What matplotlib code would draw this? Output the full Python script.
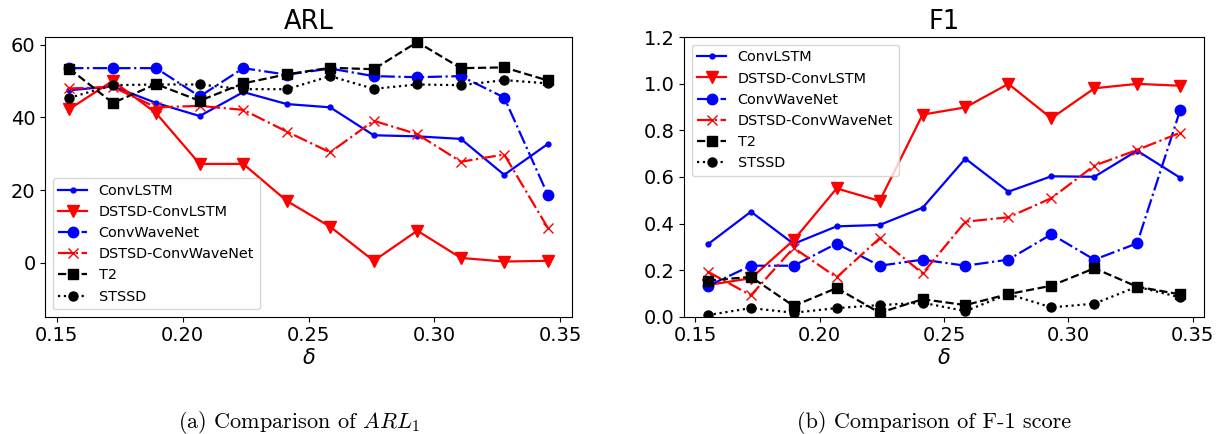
import matplotlib
matplotlib.use("Agg")
import matplotlib.pyplot as plt

delta = [0.155, 0.1723, 0.1895, 0.2068, 0.2241, 0.2414, 0.2586, 0.2759, 0.2932, 0.3105, 0.3277, 0.345]

series_names = ["ConvLSTM", "DSTSD-ConvLSTM", "ConvWaveNet", "DSTSD-ConvWaveNet", "T2", "STSSD"]

arl_convlstm = [47.5, 48.6, 44.0, 40.4, 47.0, 43.7, 42.8, 35.1, 34.8, 34.1, 24.2, 32.7]
arl_dstsd_convlstm = [42.3, 50.1, 41.2, 27.2, 27.2, 17.0, 9.9, 0.5, 8.8, 1.3, 0.3, 0.5]
arl_convwavenet = [53.6, 53.6, 53.6, 45.8, 53.6, 51.8, 53.5, 51.4, 51.1, 51.4, 45.5, 18.7]
arl_dstsd_convwavenet = [48.0, 48.4, 42.8, 43.2, 42.1, 36.1, 30.4, 39.1, 35.4, 27.8, 29.8, 9.6]
arl_t2 = [53.5, 44.0, 49.2, 44.6, 49.4, 51.9, 53.7, 53.3, 60.8, 53.6, 53.8, 50.2]
arl_stssd = [45.4, 48.9, 49.1, 49.1, 47.8, 47.8, 51.4, 47.9, 49.1, 48.9, 50.3, 49.4]

f1_convlstm = [0.311, 0.451, 0.313, 0.388, 0.394, 0.468, 0.679, 0.537, 0.603, 0.601, 0.713, 0.597]
f1_dstsd_convlstm = [0.136, 0.165, 0.329, 0.551, 0.497, 0.868, 0.899, 1.0, 0.852, 0.981, 1.0, 0.992]
f1_convwavenet = [0.132, 0.219, 0.219, 0.314, 0.219, 0.245, 0.219, 0.245, 0.354, 0.245, 0.315, 0.886]
f1_dstsd_convwavenet = [0.193, 0.092, 0.296, 0.169, 0.337, 0.186, 0.408, 0.427, 0.509, 0.649, 0.716, 0.790]
f1_t2 = [0.155, 0.171, 0.046, 0.123, 0.017, 0.075, 0.050, 0.097, 0.133, 0.208, 0.129, 0.096]
f1_stssd = [0.007, 0.037, 0.017, 0.037, 0.050, 0.060, 0.024, 0.097, 0.040, 0.056, 0.129, 0.083]

arl_data = [arl_convlstm, arl_dstsd_convlstm, arl_convwavenet, arl_dstsd_convwavenet, arl_t2, arl_stssd]
f1_data = [f1_convlstm, f1_dstsd_convlstm, f1_convwavenet, f1_dstsd_convwavenet, f1_t2, f1_stssd]

styles = [
    dict(color='b', marker='.', linestyle='-', markersize=7),
    dict(color='r', marker='v', linestyle='-', markersize=8),
    dict(color='b', marker='o', linestyle='-.', markersize=7.5),
    dict(color='r', marker='x', linestyle='-.', markersize=7.5),
    dict(color='k', marker='s', linestyle='--', markersize=7),
    dict(color='k', marker='o', linestyle=':', markersize=6.5),
]

W, H = 1216, 434
fig = plt.figure(figsize=(W / 100, H / 100), dpi=100)
ax1 = fig.add_axes([45.3 / W, (H - 316.7) / H, 526.4 / W, 279.4 / H])
ax2 = fig.add_axes([684.3 / W, (H - 316.7) / H, 519.4 / W, 279.4 / H])

for ax, data in ((ax1, arl_data), (ax2, f1_data)):
    for name, vals, st in zip(series_names, data, styles):
        ax.plot(delta, vals, label=name, linewidth=1.6, **st)
    ax.tick_params(labelsize=14)
    ax.set_xlabel(r'$\delta$', fontsize=15, labelpad=2)
    ax.set_xticks([0.15, 0.20, 0.25, 0.30, 0.35])

ax1.set_ylim(-14.9, 62.1)
ax1.set_yticks([0, 20, 40, 60])
ax1.set_title('ARL', fontsize=18.5)
ax1.legend(loc='lower left', fontsize=10.4)

ax2.set_ylim(0, 1.2)
ax2.set_yticks([0.0, 0.2, 0.4, 0.6, 0.8, 1.0, 1.2])
ax2.set_title('F1', fontsize=18.5)
ax2.legend(loc='upper left', fontsize=10.4)

fig.text(299 / W, 1 - 427.5 / H, r'(a) Comparison of $ARL_1$', fontfamily='cmr10',
         math_fontfamily='cm', fontsize=16, ha='center', va='baseline')
fig.text(934 / W, 1 - 427.5 / H, '(b) Comparison of F-1 score', fontfamily='cmr10',
         fontsize=16, ha='center', va='baseline')

fig.savefig('out.png', dpi=100)
